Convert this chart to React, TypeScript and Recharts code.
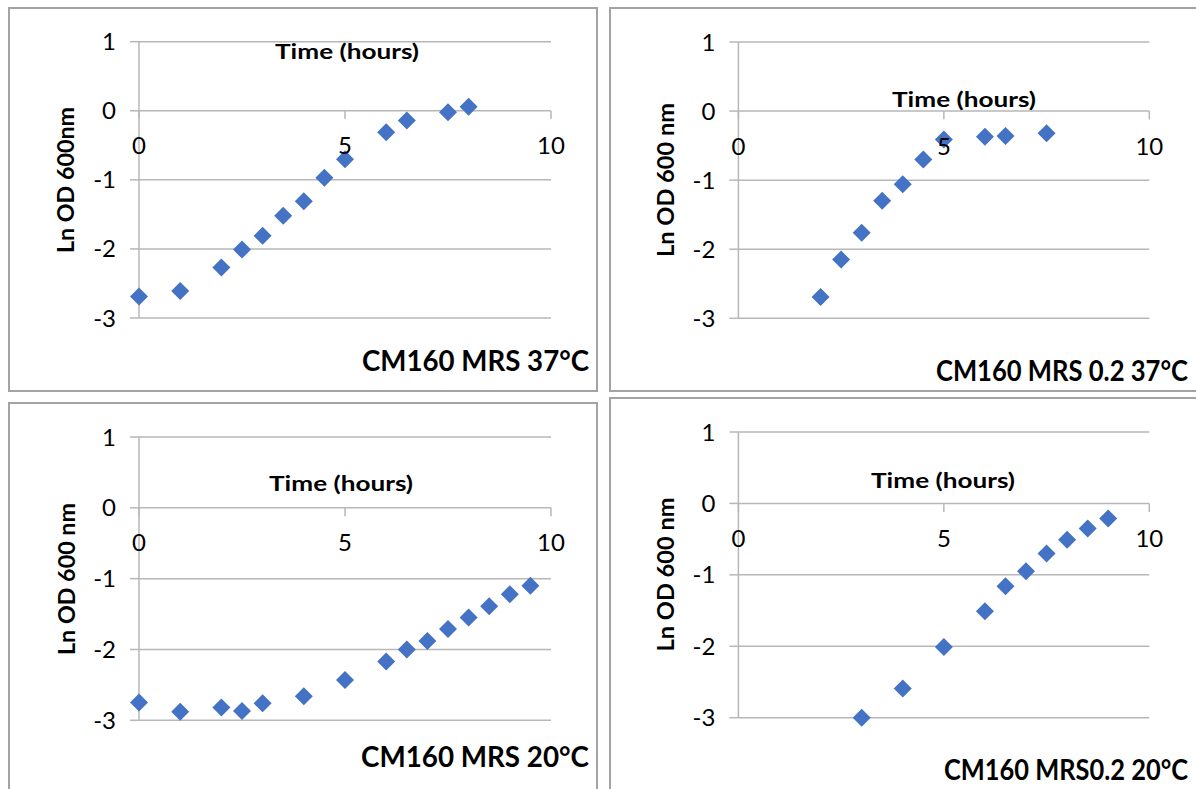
import React from 'react';
import { ScatterChart, Scatter, XAxis, YAxis, CartesianGrid, ReferenceLine, ReferenceDot } from 'recharts';

// ---- data ----
const xTicks = [0, 5, 10];
const yTicks = [-3, -2, -1, 0, 1];

const mrs37Time = [0, 1, 2, 2.5, 3, 3.5, 4, 4.5, 5, 6, 6.5, 7.5, 8];
const mrs37LnOD = [-2.69, -2.61, -2.27, -2.01, -1.81, -1.52, -1.31, -0.97, -0.7, -0.31, -0.14, -0.02, 0.06];

const mrs02_37Time = [2, 2.5, 3, 3.5, 4, 4.5, 5, 6, 6.5, 7.5];
const mrs02_37LnOD = [-2.69, -2.15, -1.76, -1.3, -1.06, -0.7, -0.41, -0.37, -0.36, -0.32];

const mrs20Time = [0, 1, 2, 2.5, 3, 4, 5, 6, 6.5, 7, 7.5, 8, 8.5, 9, 9.5];
const mrs20LnOD = [-2.75, -2.88, -2.82, -2.87, -2.76, -2.66, -2.43, -2.17, -2.0, -1.88, -1.71, -1.55, -1.39, -1.22, -1.1];

const mrs02_20Time = [3, 4, 5, 6, 6.5, 7, 7.5, 8, 8.5, 9];
const mrs02_20LnOD = [-3.0, -2.59, -2.01, -1.51, -1.16, -0.95, -0.7, -0.51, -0.35, -0.21];

const xTitle = 'Time (hours)';
const panelTitles = ['CM160 MRS 37°C', 'CM160 MRS 0.2 37°C', 'CM160 MRS 20°C', 'CM160 MRS0.2 20°C'];
const yTitles = ['Ln OD 600nm', 'Ln OD 600 nm', 'Ln OD 600 nm', 'Ln OD 600 nm'];

const toPoints = (xs: number[], ys: number[]) => xs.map((x, i) => ({ x, y: ys[i] }));

// ---- layout / style ----
const GRID = '#b7b7b7';
const BLUE = '#4472C4';
const FONT = 'Lato, "Open Sans", sans-serif';
const CW = 590;
const CH = 385;
const YW = 60;

type Panel = {
  left: number; top: number; bw: number; bh: number;
  L: number; R: number; T: number; B: number;
  data: { x: number; y: number }[];
  xt: { cx: number; base: number; w: number };
  pt: { right: number; base: number; w: number };
  yt: { cx: number; cy: number; len: number };
};

const panels: Panel[] = [
  {
    left: 8, top: 7, bw: 590, bh: 385, L: 139, R: 551, T: 41.7, B: 318,
    data: toPoints(mrs37Time, mrs37LnOD),
    xt: { cx: 347, base: 59, w: 144 },
    pt: { right: 589, base: 371, w: 227 },
    yt: { cx: 66, cy: 180, len: 146 },
  },
  {
    left: 609, top: 7, bw: 600, bh: 385, L: 738.4, R: 1149.3, T: 42, B: 318.3,
    data: toPoints(mrs02_37Time, mrs02_37LnOD),
    xt: { cx: 964, base: 107, w: 144 },
    pt: { right: 1188, base: 381, w: 252 },
    yt: { cx: 666, cy: 180, len: 154 },
  },
  {
    left: 8, top: 402, bw: 590, bh: 400, L: 139, R: 551, T: 437, B: 720.3,
    data: toPoints(mrs20Time, mrs20LnOD),
    xt: { cx: 341, base: 491, w: 144 },
    pt: { right: 589, base: 767, w: 228 },
    yt: { cx: 67, cy: 579, len: 152 },
  },
  {
    left: 609, top: 397, bw: 600, bh: 400, L: 738.4, R: 1149.3, T: 432, B: 717.7,
    data: toPoints(mrs02_20Time, mrs02_20LnOD),
    xt: { cx: 943, base: 488, w: 144 },
    pt: { right: 1188, base: 780, w: 244 },
    yt: { cx: 666, cy: 574.5, len: 154 },
  },
];

const Diamond = (props: any) => {
  const { cx, cy } = props;
  if (cx == null || cy == null) return null;
  const r = 9;
  return (
    <polygon
      points={`${cx},${cy - r} ${cx + r},${cy} ${cx},${cy + r} ${cx - r},${cy}`}
      fill={BLUE}
    />
  );
};

const PanelChart = ({ p }: { p: Panel }) => {
  const margin = {
    left: p.L - p.left - YW,
    top: p.T - p.top,
    right: p.left + CW - p.R,
    bottom: p.top + CH - p.B,
  };
  return (
    <div style={{ position: 'absolute', left: p.left, top: p.top, width: CW, height: CH }}>
      <ScatterChart width={CW} height={CH} margin={margin}>
        <CartesianGrid vertical={false} stroke={GRID} strokeWidth={1.5} />
        <XAxis type="number" dataKey="x" domain={[0, 10]} ticks={xTicks} hide />
        <YAxis
          type="number"
          dataKey="y"
          domain={[-3, 1]}
          ticks={yTicks}
          width={YW}
          tickSize={9}
          tickMargin={14}
          axisLine={{ stroke: GRID, strokeWidth: 1.5 }}
          tickLine={{ stroke: GRID, strokeWidth: 1.5 }}
          tick={{ fill: '#000', fontSize: 24, fontFamily: FONT }}
          interval={0}
        />
        {xTicks.map((t) => (
          <ReferenceLine
            key={`tl${t}`}
            segment={[{ x: t, y: 0 }, { x: t, y: -0.12 }]}
            stroke={GRID}
            strokeWidth={1.5}
          />
        ))}
        {xTicks.map((t) => (
          <ReferenceDot
            key={`td${t}`}
            x={t}
            y={0}
            r={0.5}
            fill="none"
            stroke="none"
            label={{ value: String(t), position: 'bottom', offset: 26, fill: '#000', fontSize: 24, fontFamily: FONT }}
          />
        ))}
        <Scatter data={p.data} shape={Diamond} isAnimationActive={false} />
      </ScatterChart>
    </div>
  );
};

export default function App() {
  return (
    <div
      style={{
        position: 'absolute', left: 0, top: 0, width: 1196, height: 789,
        overflow: 'hidden', background: '#fff',
      }}
    >
      {panels.map((p, i) => (
        <div
          key={`b${i}`}
          style={{
            position: 'absolute', left: p.left, top: p.top, width: p.bw, height: p.bh,
            boxSizing: 'border-box', border: '2px solid #a3a3a3',
          }}
        />
      ))}
      {panels.map((p, i) => (
        <PanelChart key={`c${i}`} p={p} />
      ))}
      <svg
        width={1196}
        height={789}
        style={{ position: 'absolute', left: 0, top: 0, pointerEvents: 'none' }}
      >
        {panels.map((p, i) => (
          <g key={`t${i}`} fontFamily={FONT} fontWeight={700} fill="#000">
            <text x={p.xt.cx} y={p.xt.base} textAnchor="middle" fontSize={21}
              textLength={p.xt.w} lengthAdjust="spacingAndGlyphs">{xTitle}</text>
            <text transform={`translate(${p.pt.right},${p.pt.base}) scale(1,1.1)`}
              x={0} y={0} textAnchor="end" fontSize={26}
              textLength={p.pt.w} lengthAdjust="spacingAndGlyphs">{panelTitles[i]}</text>
            <text
              transform={`translate(${p.yt.cx},${p.yt.cy}) rotate(-90)`}
              x={0} y={0} dy="0.36em" textAnchor="middle" fontSize={23}
              textLength={p.yt.len} lengthAdjust="spacingAndGlyphs"
            >{yTitles[i]}</text>
          </g>
        ))}
      </svg>
    </div>
  );
}
